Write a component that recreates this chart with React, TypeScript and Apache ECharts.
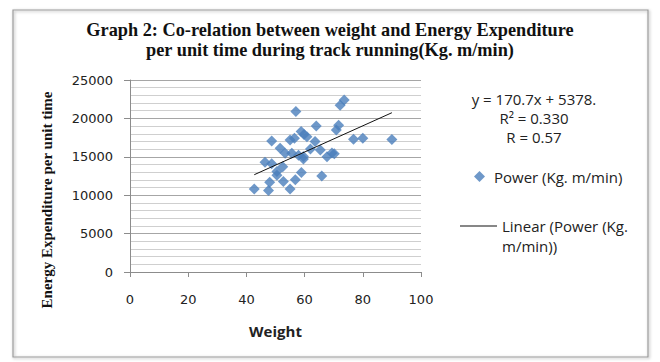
import React, { useEffect, useRef } from "react";
import * as echarts from "echarts";

const weights = [
  42.7, 47.6, 48.0, 52.7, 55.0, 56.8, 58.9, 50.5, 50.5, 52.5, 46.4, 48.7, 53.3, 55.6, 57.9, 59.6, 59.6,
  48.7, 51.6, 55.0, 56.5, 58.8, 59.8, 60.8, 63.6, 65.4, 67.7, 69.4, 70.2, 65.9, 57.0, 64.0, 71.7, 70.9,
  72.2, 73.6, 76.8, 80.0, 90.0, 62.0,
];
const energy = [
  10800, 10600, 11700, 11800, 10800, 12000, 12950, 12600, 13100, 13700, 14300, 14100, 15450, 15450, 15200,
  14700, 15050, 17050, 16100, 17200, 17400, 18300, 17900, 17600, 17000, 15900, 15000, 15500, 15400, 12500,
  20900, 19000, 19100, 18500, 21700, 22400, 17300, 17400, 17250, 16000,
];
const trendSlope = 170.7;
const trendIntercept = 5378;
const equationLines = ["y = 170.7x + 5378.", "R\u00b2 = 0.330", "R = 0.57"];
const xTicks = { min: 0, max: 100, interval: 20 };
const yTicks = { min: 0, max: 25000, interval: 5000 };

const titleText = "Graph 2: Co-relation between weight and Energy Expenditure\nper unit time during track running(Kg. m/min)";
const seriesName = "Power (Kg. m/min)";
const trendName = "Linear (Power (Kg. m/min))";

export default function App() {
  const ref = useRef<HTMLDivElement>(null);
  useEffect(() => {
    if (!ref.current) return;
    const chart = echarts.init(ref.current, undefined, { renderer: "svg" });
    const xMinData = Math.min(...weights);
    const xMaxData = Math.max(...weights);
    const trend = [xMinData, xMaxData].map((x) => [x, trendSlope * x + trendIntercept]);
    const sans = "Open Sans";
    const tickFont = "DejaVu Sans";
    const fs = 15;
    chart.setOption({
      animation: false,
      backgroundColor: "#ffffff",
      title: {
        text: titleText,
        left: "center",
        top: 15,
        textStyle: {
          fontFamily: "Liberation Serif",
          fontWeight: "bold",
          fontSize: 18.3,
          lineHeight: 20,
          color: "#111",
        },
      },
      grid: { left: 130, top: 80, width: 291, height: 192 },
      xAxis: {
        type: "value",
        min: xTicks.min,
        max: xTicks.max,
        interval: xTicks.interval,
        name: "Weight",
        nameLocation: "middle",
        nameGap: 51,
        nameTextStyle: { fontFamily: sans, fontWeight: "bold", fontSize: fs, color: "#222" },
        axisLine: { show: true, onZero: false, lineStyle: { color: "#8c8c8c", width: 1 } },
        axisTick: { show: true, inside: false, length: 5, lineStyle: { color: "#8c8c8c" } },
        axisLabel: { margin: 21, fontFamily: tickFont, fontSize: 13, color: "#222" },
        splitLine: { show: false },
      },
      yAxis: {
        type: "value",
        min: yTicks.min,
        max: yTicks.max,
        interval: yTicks.interval,
        axisLine: { show: true, onZero: false, lineStyle: { color: "#8c8c8c", width: 1 } },
        axisTick: { show: true, inside: false, length: 6, lineStyle: { color: "#8c8c8c" } },
        axisLabel: {
          margin: 17,
          fontFamily: tickFont,
          fontSize: 13,
          color: "#222",
          formatter: (v: number) => String(v),
        },
        splitLine: { show: true, lineStyle: { color: "#a6a6a6", width: 1 } },
        minorTick: { show: false, splitNumber: 5 },
        minorSplitLine: { show: true, lineStyle: { color: "#cfcfcf", width: 1 } },
      },
      legend: [
        {
          data: [{ name: seriesName, icon: "diamond" }],
          left: 474,
          top: 169,
          padding: 0,
          itemWidth: 11,
          itemHeight: 11,
          textStyle: { fontFamily: sans, fontSize: fs, color: "#222", padding: [0, 0, 0, 4] },
          selectedMode: false,
        },
        {
          data: [{ name: trendName, icon: "rect" }],
          left: 460,
          top: 196,
          padding: 0,
          itemWidth: 37,
          itemHeight: 1,
          formatter: () => "\nLinear (Power (Kg.\nm/min))",
          textStyle: { fontFamily: sans, fontSize: fs, color: "#222", lineHeight: 20 },
          selectedMode: false,
        },
      ],
      graphic: [
        {
          type: "rect",
          shape: { x: 13, y: 10, width: 635, height: 347 },
          style: { fill: "none", stroke: "#9a9a9a", lineWidth: 1.2, shadowBlur: 3, shadowColor: "rgba(0,0,0,0.35)", shadowOffsetX: 1, shadowOffsetY: 1 },
          silent: true,
          z: -1,
        },
        {
          type: "text",
          x: 534,
          y: 89,
          style: {
            text: equationLines.join("\n"),
            fontFamily: sans,
            fontSize: fs,
            lineHeight: 19,
            fill: "#222",
            align: "center",
            verticalAlign: "top",
          },
        },
        {
          type: "text",
          x: 47,
          y: 200,
          rotation: Math.PI / 2,
          style: {
            text: "Energy Expenditure per unit time",
            fontFamily: "Liberation Serif",
            fontWeight: "bold",
            fontSize: 15,
            fill: "#111",
            align: "center",
            verticalAlign: "middle",
          },
        },
      ],
      series: [
        {
          name: seriesName,
          type: "scatter",
          symbol: "diamond",
          symbolSize: 11,
          itemStyle: { color: "#4a7ebb" },
          data: weights.map((w, i) => [w, energy[i]]),
          z: 3,
        },
        {
          name: trendName,
          type: "line",
          symbol: "none",
          lineStyle: { color: "#111", width: 1 },
          itemStyle: { color: "#111" },
          data: trend,
          z: 4,
        },
      ],
    });
    return () => chart.dispose();
  }, []);
  return (
    <div
      ref={ref}
      style={{ position: "fixed", left: 0, top: 0, width: 660, height: 362, background: "#fff" }}
    />
  );
}
